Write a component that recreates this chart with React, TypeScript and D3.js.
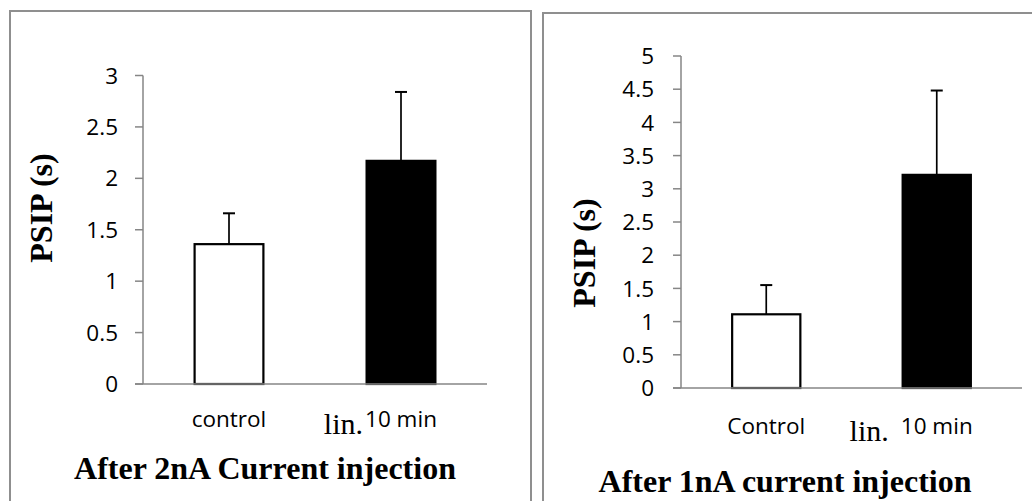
import React from "react";
import * as d3 from "d3";

// ---- Data ----
const categoriesA = ["control", "10 min"];
const prefixesA = ["", "lin."];
const meansA = [1.36, 2.17];
const errorsA = [0.3, 0.67];
const ticksA = [0, 0.5, 1, 1.5, 2, 2.5, 3];
const titleA = "After 2nA Current injection";

const categoriesB = ["Control", "10 min"];
const prefixesB = ["", "lin."];
const meansB = [1.11, 3.21];
const errorsB = [0.44, 1.27];
const ticksB = [0, 0.5, 1, 1.5, 2, 2.5, 3, 3.5, 4, 4.5, 5];
const titleB = "After 1nA current injection";

const yTitle = "PSIP (s)";
const fills = ["#ffffff", "#000000"];

const SANS = "'Open Sans', sans-serif";
const SERIF = "'Liberation Serif', 'Times New Roman', serif";
const AXIS = "#868686";
const FRAME = "#8f8f8f";

type PanelProps = {
  categories: string[];
  prefixes: string[];
  means: number[];
  errors: number[];
  ticks: number[];
  title: string;
  frame: { x: number; y: number; w: number; h: number };
  plot: { x0: number; x1: number; y0: number; y1: number };
  yTitlePos: { x: number; y: number };
  tickLabelGap: number;
  catBaseline: number;
  linBaseline: number;
  linGap: number;
  titlePos: { x: number; y: number };
};

function Panel(p: PanelProps) {
  const yMax = p.ticks[p.ticks.length - 1];
  const y = d3.scaleLinear().domain([0, yMax]).range([p.plot.y0, p.plot.y1]);
  const x = d3
    .scaleBand<string>()
    .domain(p.categories)
    .range([p.plot.x0, p.plot.x1])
    .paddingInner(0.6)
    .paddingOuter(0.3);
  const bw = x.bandwidth();
  const capHalf = 6;
  return (
    <g>
      <rect
        x={p.frame.x}
        y={p.frame.y}
        width={p.frame.w}
        height={p.frame.h}
        fill="#fff"
        stroke={FRAME}
        strokeWidth={2}
      />
      {/* bars */}
      {p.categories.map((c, i) => {
        const x0 = x(c)!;
        const top = y(p.means[i]);
        return (
          <rect
            key={"b" + i}
            x={x0}
            y={top}
            width={bw}
            height={y(0) - top}
            fill={fills[i]}
            stroke="#000"
            strokeWidth={2.2}
          />
        );
      })}
      {/* error bars */}
      {p.categories.map((c, i) => {
        const cx = x(c)! + bw / 2;
        const top = y(p.means[i]);
        const et = y(p.means[i] + p.errors[i]);
        return (
          <g key={"e" + i} stroke="#000" strokeWidth={1.7}>
            <line x1={cx} x2={cx} y1={top} y2={et} />
            <line x1={cx - capHalf} x2={cx + capHalf} y1={et} y2={et} strokeWidth={2} />
          </g>
        );
      })}
      {/* y axis */}
      <line x1={p.plot.x0} x2={p.plot.x0} y1={y(0)} y2={y(yMax)} stroke={AXIS} strokeWidth={1.5} />
      {p.ticks.map((t) => (
        <g key={"t" + t}>
          <line x1={p.plot.x0 - 8} x2={p.plot.x0} y1={y(t)} y2={y(t)} stroke={AXIS} strokeWidth={1.5} />
          <text
            x={p.plot.x0 - p.tickLabelGap}
            y={y(t)}
            dy="0.36em"
            textAnchor="end"
            fontFamily={SANS}
            fontSize={22.5}
            fill="#000"
          >
            {String(t)}
          </text>
        </g>
      ))}
      {/* x axis */}
      <line x1={p.plot.x0 - 8} x2={p.plot.x1} y1={y(0)} y2={y(0)} stroke={AXIS} strokeWidth={1.5} />
      {/* category labels */}
      {p.categories.map((c, i) => {
        const cx = x(c)! + bw / 2;
        return (
          <g key={"c" + i}>
            <text
              x={cx}
              y={p.catBaseline}
              textAnchor="middle"
              fontFamily={SANS}
              fontSize={22.5}
              fill="#000"
            >
              {c}
            </text>
            {p.prefixes[i] ? (
              <text
                x={cx - 37 - p.linGap}
                y={p.linBaseline}
                textAnchor="end"
                fontFamily={SERIF}
                fontSize={30}
                fill="#000"
              >
                {p.prefixes[i]}
              </text>
            ) : null}
          </g>
        );
      })}
      {/* y title */}
      <text
        transform={`translate(${p.yTitlePos.x},${p.yTitlePos.y}) rotate(-90)`}
        textAnchor="middle"
        dy="0.35em"
        fontFamily={SERIF}
        fontWeight="bold"
        fontSize={32}
        fill="#000"
      >
        {yTitle}
      </text>
      {/* panel title */}
      <text
        x={p.titlePos.x}
        y={p.titlePos.y}
        textAnchor="middle"
        fontFamily={SERIF}
        fontWeight="bold"
        fontSize={32}
        fill="#000"
      >
        {p.title}
      </text>
    </g>
  );
}

export default function App() {
  return (
    <svg
      width={1032}
      height={501}
      style={{ position: "absolute", left: 0, top: 0, background: "#fff" }}
    >
      <rect x={0} y={0} width={1032} height={501} fill="#fff" />
      <Panel
        categories={categoriesA}
        prefixes={prefixesA}
        means={meansA}
        errors={errorsA}
        ticks={ticksA}
        title={titleA}
        frame={{ x: 10, y: 11, w: 521, h: 520 }}
        plot={{ x0: 143, x1: 487, y0: 384, y1: 75.5 }}
        yTitlePos={{ x: 41, y: 208 }}
        tickLabelGap={25}
        catBaseline={427}
        linBaseline={434}
        linGap={1}
        titlePos={{ x: 265, y: 479 }}
      />
      <Panel
        categories={categoriesB}
        prefixes={prefixesB}
        means={meansB}
        errors={errorsB}
        ticks={ticksB}
        title={titleB}
        frame={{ x: 543, y: 13, w: 520, h: 520 }}
        plot={{ x0: 681, x1: 1022, y0: 388, y1: 56 }}
        yTitlePos={{ x: 584, y: 253 }}
        tickLabelGap={27}
        catBaseline={434}
        linBaseline={441}
        linGap={11}
        titlePos={{ x: 785, y: 492 }}
      />
    </svg>
  );
}
